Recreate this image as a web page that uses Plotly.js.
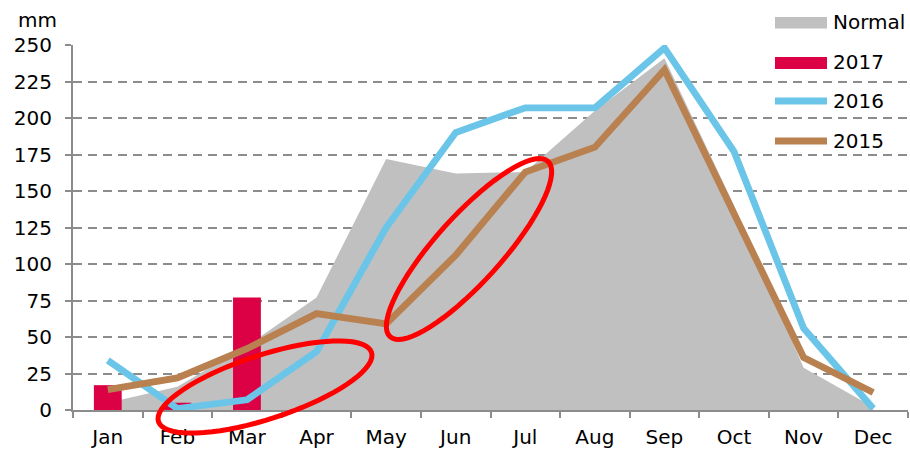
<!DOCTYPE html>
<html>
<head>
<meta charset="utf-8">
<script src="https://cdn.plot.ly/plotly-3.0.1.min.js"></script>
<style>html,body{margin:0;padding:0;background:#fff;}#chart{width:910px;height:449px;}</style>
</head>
<body>
<div id="chart"></div>
<script>
// ---- data ----
const months = ['Jan','Feb','Mar','Apr','May','Jun','Jul','Aug','Sep','Oct','Nov','Dec'];
const normal = [5, 16, 44, 77, 172, 162, 163, 205, 241, 140, 29, 2];
const rain2017 = [17, 5, 77, null, null, null, null, null, null, null, null, null];
const rain2016 = [34, 1, 7, 40, 125, 190, 207, 207, 248, 177, 56, 1];
const rain2015 = [14, 22, 42, 66, 59, 106, 163, 180, 233, 134, 36, 12];
const seriesNames = ['Normal', '2017', '2016', '2015'];
const yTicks = [0, 25, 50, 75, 100, 125, 150, 175, 200, 225, 250];

// ---- style ----
const C = {grey:'#c0c0c0', red:'#dc0045', blue:'#6bc5e8', brown:'#b98050', ring:'#ff0000', axis:'#8c8c8c'};
const FONT = 'DejaVu Sans, Verdana, sans-serif';
const FS = 20;
const W = 910, H = 449, L = 73, R = 2, T = 45, B = 39;
const PW = W - L - R, PH = H - T - B;
const px = x => (x - L) / PW;
const py = y => (H - B - y) / PH;

function ellipsePath(cx, cy, a, b, deg) {
  const th = deg * Math.PI / 180;
  let d = '';
  const n = 72;
  for (let i = 0; i <= n; i++) {
    const t = 2 * Math.PI * i / n;
    const x = cx + a * Math.cos(t) * Math.cos(th) - b * Math.sin(t) * Math.sin(th);
    const y = cy - (a * Math.cos(t) * Math.sin(th) + b * Math.sin(t) * Math.cos(th));
    d += (i === 0 ? 'M' : 'L') + px(x).toFixed(5) + ',' + py(y).toFixed(5);
  }
  return d + 'Z';
}

const traces = [
  {x: months, y: normal, name: seriesNames[0], type: 'scatter', mode: 'none', fill: 'tozeroy', fillcolor: C.grey, xaxis: 'x', yaxis: 'y', hoverinfo: 'skip'},
  {x: months, y: rain2017, name: seriesNames[1], type: 'bar', marker: {color: C.red}, width: 0.4, xaxis: 'x', yaxis: 'y2'},
  {x: months, y: rain2016, name: seriesNames[2], type: 'scatter', mode: 'lines', line: {color: C.blue, width: 6.8}, xaxis: 'x', yaxis: 'y2'},
  {x: months, y: rain2015, name: seriesNames[3], type: 'scatter', mode: 'lines', line: {color: C.brown, width: 6.8}, xaxis: 'x', yaxis: 'y2'}
];

const shapes = [
  // legend background
  {type: 'rect', xref: 'paper', yref: 'paper', x0: px(767), x1: px(912), y0: py(170), y1: py(0), fillcolor: '#fff', line: {width: 0}, layer: 'between'},
  // legend symbols
  {type: 'rect', xref: 'paper', yref: 'paper', x0: px(775), x1: px(827), y0: py(28.5), y1: py(17), fillcolor: C.grey, line: {width: 0}, layer: 'above'},
  {type: 'rect', xref: 'paper', yref: 'paper', x0: px(775), x1: px(827), y0: py(69), y1: py(57), fillcolor: C.red, line: {width: 0}, layer: 'above'},
  {type: 'line', xref: 'paper', yref: 'paper', x0: px(775), x1: px(827), y0: py(101), y1: py(101), line: {color: C.blue, width: 6.8}, layer: 'above'},
  {type: 'line', xref: 'paper', yref: 'paper', x0: px(775), x1: px(827), y0: py(141), y1: py(141), line: {color: C.brown, width: 6.8}, layer: 'above'},
  // red highlight ellipses
  {type: 'path', xref: 'paper', yref: 'paper', path: ellipsePath(265, 387, 112, 32, 18), line: {color: C.ring, width: 5}, layer: 'above'},
  {type: 'path', xref: 'paper', yref: 'paper', path: ellipsePath(469, 249, 118, 33, 48), line: {color: C.ring, width: 5}, layer: 'above'}
];

const legendY = [22, 62, 101, 141];
const annotations = seriesNames.map((n, i) => ({
  text: n, xref: 'paper', yref: 'paper', x: px(831), y: py(legendY[i]), xanchor: 'left', yanchor: 'middle',
  showarrow: false, font: {family: FONT, size: FS, color: '#000'}
}));
annotations.push({text: 'mm', xref: 'paper', yref: 'paper', x: px(37), y: py(20), xanchor: 'center', yanchor: 'middle', showarrow: false, font: {family: FONT, size: FS, color: '#000'}});

const layout = {
  width: W, height: H,
  margin: {l: L, r: R, t: T, b: B, pad: 0},
  paper_bgcolor: '#fff', plot_bgcolor: '#fff',
  showlegend: false,
  font: {family: FONT, size: FS, color: '#000'},
  xaxis: {
    type: 'category', categoryorder: 'array', categoryarray: months,
    range: [-0.5, 11.5], tickson: 'boundaries', ticks: 'outside', ticklen: 6, tickwidth: 2, tickcolor: C.axis,
    showline: true, linecolor: C.axis, linewidth: 2, showgrid: false, zeroline: false,
    tickfont: {family: FONT, size: FS, color: '#000'}, ticklabelstandoff: 8, fixedrange: true
  },
  yaxis: {
    range: [0, 250], tickvals: yTicks, ticktext: yTicks.map(String), ticks: 'outside', ticklen: 6, tickwidth: 2, tickcolor: C.axis,
    showline: true, linecolor: C.axis, linewidth: 2, showgrid: true, gridcolor: C.axis, gridwidth: 2, griddash: '9px,6px',
    zeroline: false, tickfont: {family: FONT, size: FS, color: '#000'}, ticklabelstandoff: 9, fixedrange: true
  },
  yaxis2: {range: [0, 250], overlaying: 'y', visible: false, fixedrange: true},
  shapes: shapes,
  annotations: annotations
};

Plotly.newPlot('chart', traces, layout, {staticPlot: true, displayModeBar: false});
</script>
</body>
</html>
